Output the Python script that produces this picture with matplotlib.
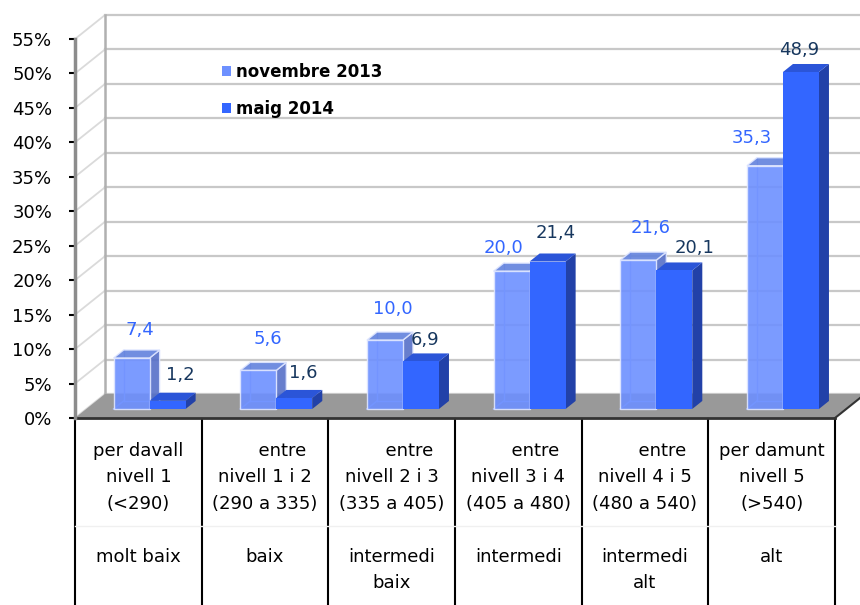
import matplotlib.pyplot as plt
import matplotlib.transforms as mtransforms
from matplotlib.patches import Polygon, Patch

plt.rcParams['font.family'] = ['DejaVu Sans']

# dades
levels = ['per davall\nnivell 1\n(<290)',
          '      entre\nnivell 1 i 2\n(290 a 335)',
          '      entre\nnivell 2 i 3\n(335 a 405)',
          '      entre\nnivell 3 i 4\n(405 a 480)',
          '      entre\nnivell 4 i 5\n(480 a 540)',
          'per damunt\nnivell 5\n(>540)']
groups = ['molt baix', 'baix', 'intermedi\nbaix', 'intermedi', 'intermedi\nalt', 'alt']
series = ['novembre 2013', 'maig 2014']
nov_2013 = [7.4, 5.6, 10.0, 20.0, 21.6, 35.3]
maig_2014 = [1.2, 1.6, 6.9, 21.4, 20.1, 48.9]
yticks = list(range(0, 56, 5))

# desplaçament de les etiquetes (pixels) per evitar solapaments
nudge_nov = [(8, 20), (10, 23), (8, 23), (-8, 15), (12, 24), (-13, 20)]
nudge_maig = [(13, 18), (9, 17), (4, 13), (8, 20), (20, 14), (-2, 14)]

W, H = 860, 605
fig = plt.figure(figsize=(W / 100, H / 100), dpi=100)
x0px, x1px, y0px, y1px = 75, 835, 418, 39
ax = fig.add_axes([x0px / W, 1 - y0px / H, (x1px - x0px) / W, (y0px - y1px) / H])
n = len(nov_2013)
ax.set_xlim(0, n)
ax.set_ylim(0, 55)

ux = n / (x1px - x0px)
uy = 55 / (y0px - y1px)
DX, DY = 30 * ux, 24 * uy      # profunditat de la caixa
f0, f1 = 0.375, 0.71           # profunditat de les barres
bw = 36 * ux

# paret del fons
grid_c = '#c8c8c8'
for t in yticks:
    ax.plot([DX, n + DX + 1], [t + DY, t + DY], color=grid_c, lw=1.6, clip_on=False, zorder=1)
    ax.plot([0, DX], [t, t + DY], color='#dadada', lw=1.3, clip_on=False, zorder=1)
ax.plot([DX, DX], [DY, 55 + DY], color='#b0b0b0', lw=1.8, clip_on=False, zorder=1)

# terra
floor = Polygon([(0, 0), (n, 0), (n + DX, DY), (DX, DY)], closed=True,
                facecolor='#999999', edgecolor='none', clip_on=False, zorder=2)
ax.add_patch(floor)
ax.plot([0, n], [0, 0], color='#333333', lw=2, clip_on=False, zorder=2.5)
ax.plot([n, n + DX], [0, DY], color='#333333', lw=1.5, clip_on=False, zorder=2.5)


def box(x, w, h, front, top, side, z, alpha=1.0, edge='none', hidden=None):
    y = f0 * DY
    dx, dy = (f1 - f0) * DX, (f1 - f0) * DY
    if hidden:
        ax.plot([x + dx, x + w + dx], [y + dy, y + dy], color=hidden, lw=1, zorder=z)
        ax.plot([x + dx, x + dx], [y + dy, y + h + dy], color=hidden, lw=1, zorder=z)
        ax.plot([x, x + dx], [y, y + dy], color=hidden, lw=1, zorder=z)
    faces = [
        ([(x + w, y), (x + w + dx, y + dy), (x + w + dx, y + h + dy), (x + w, y + h)], side),
        ([(x, y + h), (x + w, y + h), (x + w + dx, y + h + dy), (x + dx, y + h + dy)], top),
        ([(x, y), (x + w, y), (x + w, y + h), (x, y + h)], front),
    ]
    for pts, c in faces:
        ax.add_patch(Polygon(pts, closed=True, facecolor=c, edgecolor=edge, lw=1,
                             alpha=alpha, zorder=z + 0.1, clip_on=False))


nov_c = ('#6d90ff', '#6282dd', '#5670c8')
maig_c = ('#3366ff', '#2b55d8', '#2241a8')
lab_nov, lab_maig = '#3366ff', '#17375e'


def fmt(v):
    return f'{v:.1f}'.replace('.', ',')


for i in range(n):
    cx = i + 0.5 + f0 * DX
    xs = [cx - bw, cx]
    z = 3 + i
    box(xs[0], bw, nov_2013[i], *nov_c, z, alpha=0.9, edge='#dfe6ff', hidden='#a9bbff')
    box(xs[1], bw, maig_2014[i], *maig_c, z + 0.5)
    for xb, v, nd, col in [(xs[0], nov_2013[i], nudge_nov[i], lab_nov),
                           (xs[1], maig_2014[i], nudge_maig[i], lab_maig)]:
        ax.annotate(fmt(v), xy=(xb + bw / 2, v + f1 * DY), xytext=nd,
                    textcoords='offset pixels', ha='center', va='center',
                    fontsize=13, color=col, zorder=20, annotation_clip=False)

# eix Y
for s in ['top', 'right', 'bottom']:
    ax.spines[s].set_visible(False)
ax.spines['left'].set_color('#8c8c8c')
ax.spines['left'].set_linewidth(2.5)
ax.spines['left'].set_zorder(10)
ax.set_yticks(yticks)
ax.set_yticklabels([f'{t}%' for t in yticks])
ax.tick_params(axis='y', direction='out', length=4.5, width=1.5, color='black',
               pad=12, labelsize=13)
ax.set_xticks([])
ax.patch.set_visible(False)

# taula de categories
trans = mtransforms.blended_transform_factory(ax.transData, fig.transFigure)
for k in range(n + 1):
    ax.plot([k, k], [1 - 419 / H, 0], color='black', lw=1.5, transform=trans, clip_on=False)
ax.plot([0, n], [1 - 526 / H, 1 - 526 / H], color='#f0f0f0', lw=1, transform=trans, clip_on=False)
for i in range(n):
    ax.text(i + 0.5, 1 - 442 / H, levels[i], transform=trans, ha='center', va='top',
            multialignment='center', fontsize=13, linespacing=1.6)
    ax.text(i + 0.5, 1 - 548 / H, groups[i], transform=trans, ha='center', va='top',
            multialignment='center', fontsize=13, linespacing=1.6)

# llegenda
handles = [Patch(facecolor=nov_c[0]), Patch(facecolor=maig_c[0])]
leg = fig.legend(handles, series, loc='upper left', bbox_to_anchor=(222 / W, 1 - 63 / H),
                 frameon=False, handlelength=0.55, handleheight=0.55, handletextpad=0.3,
                 labelspacing=1.15, borderpad=0, borderaxespad=0,
                 prop={'weight': 'bold', 'size': 12})

fig.savefig('out.png', dpi=100)
